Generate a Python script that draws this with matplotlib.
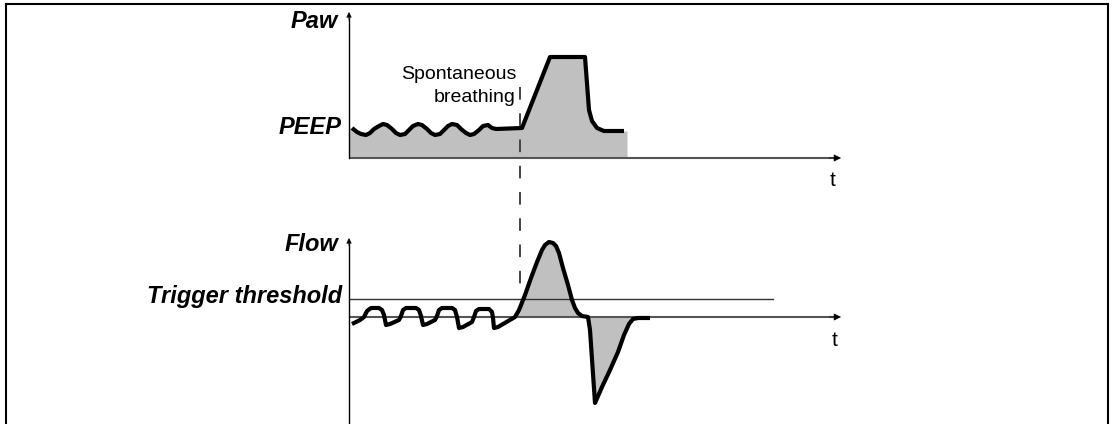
import matplotlib
matplotlib.use('Agg')
import matplotlib.pyplot as plt
from matplotlib.lines import Line2D
import numpy as np

plt.rcParams['font.family'] = ['Liberation Sans', 'DejaVu Sans']

# Paw curve (time, pressure) - schematic units
t_paw = [0.3, 0.8, 1.2, 1.7, 2.1, 2.5, 3.0, 3.4, 3.8, 4.3, 4.7, 5.1, 5.6, 6.0, 6.4, 6.9,
         7.3, 7.8, 8.2, 8.6, 9.1, 9.5, 9.9, 10.3, 10.8, 11.2, 11.7, 12.1, 12.5, 13.0,
         13.4, 13.9, 14.3, 14.7, 17.3, 20.1, 23.6, 24.0, 24.3, 24.8, 25.5, 27.5]
paw = [3.0, 2.6, 2.4, 2.3, 2.5, 2.9, 3.2, 3.4, 3.3, 2.9, 2.5, 2.3, 2.4, 2.8, 3.2, 3.4,
       3.3, 2.9, 2.5, 2.3, 2.4, 2.8, 3.2, 3.4, 3.3, 2.9, 2.5, 2.3, 2.4, 2.8,
       3.2, 3.3, 3.0, 2.9, 3.0, 10.1, 10.1, 4.8, 3.7, 3.0, 2.7, 2.7]
paw_fill_start, paw_fill_end = 0.0, 27.8

# Flow curve
t_flow = [0.3, 1.1, 1.5, 1.8, 2.2, 3.0, 3.3, 3.5, 3.7, 4.1, 5.0, 5.2, 5.4, 5.7, 6.7, 7.0,
          7.2, 7.4, 7.8, 8.6, 8.8, 9.0, 9.3, 10.3, 10.6, 10.8, 11.0, 11.4, 12.3, 12.5,
          12.7, 13.0, 14.0, 14.3, 14.4, 14.5, 14.9, 16.6, 17.0, 17.6, 18.2, 18.8, 19.3,
          19.6, 20.0, 20.4, 20.7, 21.0, 21.4, 21.9, 22.3, 22.6, 22.9, 23.3, 23.9, 24.1,
          24.6, 25.3, 26.1, 26.9, 27.5, 28.0, 28.4, 28.9, 30.1]
flow = [-0.7, -0.3, 0.0, 0.6, 0.9, 0.9, 0.7, 0.2, -0.8, -0.7, -0.3, 0.1, 0.7, 0.9, 0.9, 0.7,
        0.1, -0.8, -0.7, -0.3, 0.1, 0.7, 0.9, 0.9, 0.7, 0.0, -1.1, -1.0, -0.5, 0.0,
        0.6, 0.8, 0.8, 0.5, -0.1, -1.1, -1.0, 0.0, 0.7, 2.2, 3.9, 5.5, 6.7,
        7.2, 7.5, 7.4, 7.1, 6.4, 4.9, 3.2, 1.7, 0.9, 0.4, 0.1, 0.0, -1.3,
        -8.6, -7.0, -5.3, -3.5, -1.8, -0.7, -0.2, -0.1, -0.1]
trigger_start = 16.6
trigger_level = 1.8
threshold_end = 42.4
t_trigger = 17.1

W, H = 1114, 424
fig = plt.figure(figsize=(W / 100, H / 100), dpi=100)

# frame (bottom edge is cut off)
for xs, ys in [([6, 6], [0, 4]), ([6, 1108], [4, 4]), ([1108, 1108], [4, 0])]:
    fig.add_artist(Line2D([x / W for x in xs], [1 - y / H if y else 0 for y in ys],
                          color='black', lw=1.5))

def panel(left, right, top, bottom):
    ax = fig.add_axes([left / W, 1 - bottom / H, (right - left) / W, (bottom - top) / H])
    ax.set_axis_off()
    return ax

ax1 = panel(349, 860, 0, 200)
ax1.set_xlim(0, 51.1)
ax1.set_ylim(-4.2, 15.8)
ax2 = panel(349, 860, 226, 424)
ax2.set_xlim(0, 51.1)
ax2.set_ylim(-10.7, 9.1)

fill_c = '#c0c0c0'
line_kw = dict(color='black', lw=3, solid_joinstyle='round', solid_capstyle='butt', zorder=4)

# --- Paw panel
ft = np.r_[paw_fill_start, t_paw, paw_fill_end]
fp = np.r_[paw[0], paw, paw[-1]]
ax1.fill_between(ft, fp, 0, color=fill_c, lw=0, zorder=1)
ax1.plot(t_paw, paw, **line_kw)

# --- Flow panel
t_flow = np.array(t_flow)
flow = np.array(flow)
m = t_flow >= trigger_start
ax2.fill_between(t_flow[m], flow[m], 0, color=fill_c, lw=0, zorder=1)
ax2.plot(t_flow, flow, **line_kw)
ax2.plot([0, threshold_end], [trigger_level, trigger_level], color='#333333', lw=1, zorder=2)

# axes with arrows
for ax, ytop, ybot in [(ax1, 14.6, 0), (ax2, 7.9, -10.7)]:
    ax.plot([0, 49.0], [0, 0], color='#555555', lw=1.5, zorder=3, solid_capstyle='butt')
    ax.annotate('', xy=(49.2, 0), xytext=(48.0, 0),
                arrowprops=dict(arrowstyle='-|>', color='black', lw=0.5,
                                mutation_scale=11, shrinkA=0, shrinkB=0), zorder=5)
    ax.plot([0, 0], [ybot, ytop - 0.6], color='black', lw=1, zorder=3, clip_on=False)
    ax.annotate('', xy=(0, ytop), xytext=(0, ytop - 0.8),
                arrowprops=dict(arrowstyle='-|>', color='black', lw=0.5,
                                mutation_scale=8, shrinkA=0, shrinkB=0),
                annotation_clip=False, zorder=5)

# dashed trigger marker spanning both panels
dash = Line2D([t_trigger, t_trigger], [7.1, -12.7], color='#444444', lw=1.4, zorder=2)
dash.set_dashes([6.5, 7])
dash.set_clip_on(False)
ax1.add_line(dash)

lab = dict(fontsize=17, fontweight='bold', fontstyle='italic', ha='right', va='center')
ax1.text(-1.1, 13.6, 'Paw', clip_on=False, **lab)
ax1.text(-0.7, 3.1, 'PEEP', clip_on=False, **lab)
ax2.text(-1.1, 7.2, 'Flow', clip_on=False, **lab)
ax2.text(-0.7, 2.0, 'Trigger threshold', clip_on=False, **lab)

ax1.text(16.7, 7.2, 'Spontaneous\nbreathing', fontsize=14, ha='right', va='center',
         linespacing=1.4)
ax1.text(48.4, -2.2, 't', fontsize=15, ha='center', va='center')
ax2.text(48.6, -2.3, 't', fontsize=15, ha='center', va='center')

fig.savefig('out.png', dpi=100)
